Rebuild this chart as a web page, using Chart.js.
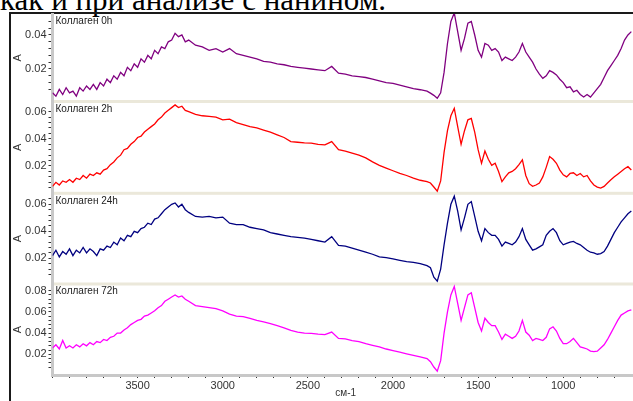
<!DOCTYPE html>
<html>
<head>
<meta charset="utf-8">
<script src="https://cdn.jsdelivr.net/npm/chart.js@4.4.0/dist/chart.umd.min.js"></script>
<style>
  html, body { margin: 0; padding: 0; background: #fff; overflow: hidden; }
  body { width: 633px; height: 401px; position: relative; }
  #caption { position: absolute; left: 0; top: -16px; font: 31px 'Liberation Serif', 'Times New Roman', serif; line-height: 1; white-space: nowrap; color: #000; }
  #frame { position: absolute; left: 9px; top: 12px; width: 700px; height: 500px; border-top: 2px solid #1a1a1a; border-left: 2px solid #1a1a1a; }
  #wrap { position: absolute; left: 0; top: 0; width: 640px; height: 401px; }
</style>
</head>
<body>
<div id="caption">как и при анализе с нанином.</div>
<div id="frame"></div>
<div id="wrap"><canvas id="spectra"></canvas></div>
<script>
// wavenumber grid, cm-1
var wavenumbers = [
  4000, 3980, 3960, 3940, 3920, 3900, 3880, 3860, 3840, 3820, 3800, 3780, 3760, 3740, 3720, 3700, 3680, 3660, 3640, 3620,
  3600, 3580, 3560, 3540, 3520, 3500, 3480, 3460, 3440, 3420, 3400, 3380, 3360, 3340, 3320, 3300, 3280, 3260, 3240, 3220, 3200,
  3160, 3120, 3080, 3040, 3000, 2960, 2920, 2880, 2840, 2800, 2760, 2720, 2680, 2640, 2600, 2560, 2520, 2480, 2440, 2400,
  2360, 2320, 2280, 2240, 2200, 2160, 2120, 2080, 2040, 2000, 1960, 1920, 1880, 1840,
  1800, 1780, 1760, 1740, 1720, 1700, 1680, 1660, 1640, 1620, 1600, 1580, 1560, 1540, 1520, 1500, 1480, 1460, 1440, 1420,
  1400, 1380, 1360, 1340, 1320, 1300, 1280, 1260, 1240, 1220, 1200, 1180, 1160, 1140, 1120, 1100, 1080, 1060, 1040, 1020,
  1000, 980, 960, 940, 920, 900, 880, 860, 840, 820, 800, 780, 760, 740, 720, 700, 680, 660, 640, 620, 600
];

var collagen0h = [
  0.006, 0.004, 0.008, 0.005, 0.009, 0.006, 0.007, 0.004, 0.009, 0.007, 0.010, 0.008, 0.011, 0.008, 0.012, 0.010, 0.014, 0.012, 0.016, 0.014,
  0.018, 0.016, 0.021, 0.019, 0.023, 0.021, 0.026, 0.024, 0.028, 0.026, 0.031, 0.029, 0.033, 0.032, 0.036, 0.037, 0.041, 0.039, 0.040, 0.036, 0.037,
  0.034, 0.033, 0.031, 0.032, 0.030, 0.032, 0.029, 0.028, 0.027, 0.026, 0.0245, 0.024, 0.023, 0.0225, 0.0215, 0.021, 0.0205, 0.020, 0.0195, 0.019,
  0.0215, 0.0175, 0.017, 0.016, 0.0155, 0.015, 0.014, 0.013, 0.012, 0.0115, 0.0105, 0.0095, 0.0085, 0.0078,
  0.007, 0.0058, 0.0045, 0.0028, 0.006, 0.018, 0.035, 0.048, 0.053, 0.042, 0.031, 0.038, 0.047, 0.048, 0.040, 0.031, 0.027, 0.035, 0.034, 0.031,
  0.032, 0.030, 0.025, 0.027, 0.026, 0.025, 0.027, 0.030, 0.035, 0.030, 0.027, 0.024, 0.020, 0.017, 0.0145, 0.016, 0.019, 0.018, 0.0165, 0.014,
  0.012, 0.009, 0.0095, 0.0065, 0.0075, 0.005, 0.0035, 0.005, 0.0035, 0.006, 0.0085, 0.011, 0.015, 0.019, 0.022, 0.025, 0.028, 0.032, 0.037, 0.040, 0.042
];

var collagen2h = [
  0.005, 0.008, 0.006, 0.009, 0.008, 0.010, 0.008, 0.011, 0.010, 0.013, 0.011, 0.014, 0.013, 0.015, 0.014, 0.017, 0.018, 0.021, 0.023, 0.026,
  0.028, 0.032, 0.033, 0.036, 0.038, 0.041, 0.042, 0.045, 0.047, 0.049, 0.051, 0.054, 0.056, 0.059, 0.061, 0.063, 0.065, 0.063, 0.064, 0.061, 0.060,
  0.058, 0.057, 0.0565, 0.056, 0.054, 0.0545, 0.052, 0.0505, 0.049, 0.048, 0.0465, 0.045, 0.043, 0.041, 0.038, 0.0375, 0.037, 0.0368, 0.036, 0.0355,
  0.038, 0.032, 0.031, 0.0295, 0.028, 0.026, 0.023, 0.0205, 0.0185, 0.0165, 0.0145, 0.013, 0.011, 0.0095,
  0.0085, 0.0075, 0.0045, 0.0015, 0.009, 0.030, 0.046, 0.057, 0.0625, 0.049, 0.036, 0.046, 0.054, 0.055, 0.045, 0.032, 0.022, 0.031, 0.025, 0.0205,
  0.022, 0.016, 0.0085, 0.012, 0.015, 0.016, 0.018, 0.021, 0.0245, 0.013, 0.007, 0.005, 0.006, 0.0075, 0.012, 0.019, 0.027, 0.025, 0.022, 0.017,
  0.0135, 0.012, 0.0145, 0.015, 0.013, 0.0145, 0.012, 0.013, 0.009, 0.006, 0.0045, 0.0037, 0.005, 0.0075, 0.0098, 0.012, 0.014, 0.016, 0.018, 0.0195, 0.017
];

var collagen24h = [
  0.022, 0.026, 0.021, 0.025, 0.023, 0.027, 0.022, 0.026, 0.024, 0.028, 0.024, 0.027, 0.025, 0.022, 0.027, 0.026, 0.029, 0.028, 0.032, 0.030,
  0.035, 0.033, 0.037, 0.036, 0.040, 0.039, 0.042, 0.043, 0.046, 0.045, 0.049, 0.050, 0.053, 0.056, 0.058, 0.060, 0.061, 0.058, 0.060, 0.056, 0.054,
  0.051, 0.0505, 0.051, 0.050, 0.0505, 0.046, 0.045, 0.045, 0.043, 0.042, 0.041, 0.039, 0.038, 0.037, 0.036, 0.0355, 0.035, 0.034, 0.033, 0.032,
  0.036, 0.0295, 0.029, 0.0275, 0.026, 0.0245, 0.023, 0.021, 0.0205, 0.0195, 0.0185, 0.0175, 0.017, 0.016,
  0.0145, 0.013, 0.006, 0.003, 0.012, 0.030, 0.046, 0.060, 0.066, 0.055, 0.041, 0.050, 0.060, 0.062, 0.051, 0.040, 0.033, 0.042, 0.039, 0.037,
  0.037, 0.034, 0.029, 0.032, 0.031, 0.030, 0.032, 0.036, 0.042, 0.034, 0.030, 0.026, 0.027, 0.0285, 0.030, 0.037, 0.040, 0.042, 0.039, 0.033,
  0.030, 0.031, 0.032, 0.0325, 0.031, 0.030, 0.028, 0.026, 0.0245, 0.024, 0.023, 0.0235, 0.025, 0.029, 0.034, 0.039, 0.043, 0.047, 0.050, 0.053, 0.055
];

var collagen72h = [
  0.026, 0.029, 0.025, 0.033, 0.026, 0.028, 0.026, 0.029, 0.027, 0.030, 0.028, 0.031, 0.029, 0.032, 0.031, 0.034, 0.033, 0.036, 0.037, 0.040,
  0.040, 0.043, 0.045, 0.048, 0.050, 0.052, 0.053, 0.056, 0.057, 0.059, 0.061, 0.064, 0.066, 0.070, 0.072, 0.074, 0.076, 0.074, 0.075, 0.072, 0.070,
  0.066, 0.065, 0.064, 0.063, 0.061, 0.058, 0.056, 0.0555, 0.054, 0.052, 0.0505, 0.049, 0.047, 0.045, 0.0425, 0.041, 0.040, 0.0398, 0.039, 0.0385,
  0.041, 0.035, 0.0345, 0.033, 0.032, 0.030, 0.0285, 0.027, 0.025, 0.0235, 0.022, 0.0205, 0.019, 0.0175,
  0.016, 0.013, 0.008, 0.004, 0.014, 0.040, 0.060, 0.076, 0.084, 0.068, 0.052, 0.064, 0.076, 0.078, 0.064, 0.050, 0.042, 0.054, 0.050, 0.047,
  0.047, 0.041, 0.034, 0.039, 0.037, 0.035, 0.037, 0.042, 0.052, 0.041, 0.038, 0.033, 0.035, 0.034, 0.033, 0.036, 0.044, 0.046, 0.042, 0.035,
  0.030, 0.030, 0.032, 0.035, 0.031, 0.027, 0.026, 0.025, 0.023, 0.0225, 0.023, 0.026, 0.029, 0.034, 0.040, 0.046, 0.052, 0.057, 0.059, 0.061, 0.062
];

var sampleNames = ['Коллаген 0h', 'Коллаген 2h', 'Коллаген 24h', 'Коллаген 72h'];
var sampleData = [collagen0h, collagen2h, collagen24h, collagen72h];
var sampleColors = ['#800080', '#ff0000', '#000080', '#ff00ff'];

// absorbance range of each panel, top to bottom
var panelMin = [0.00088, -0.00011, 0.00096, 0.00047];
var panelMax = [0.05235, 0.06751, 0.06815, 0.08632];
var panelWeights = [87.5, 91.8, 90.7, 91];
var yLabelTicks = [[0.02, 0.04], [0.02, 0.04, 0.06], [0.02, 0.04, 0.06], [0.02, 0.04, 0.06, 0.08]];
var xLabelTicks = [3500, 3000, 2500, 2000, 1500, 1000];

Chart.defaults.font.family = "'Liberation Sans', Arial, sans-serif";
Chart.defaults.color = '#333';

function onGrid(v, step) {
  var r = v / step;
  return Math.abs(r - Math.round(r)) < 1e-6;
}

function panelAxis(i) {
  return {
    type: 'linear',
    position: 'left',
    stack: 'spectra',
    stackWeight: panelWeights[i],
    min: panelMin[i],
    max: panelMax[i],
    afterFit: function (scale) { scale.width = 41.5; },
    border: { display: true, color: '#c8c8c8', width: 3 },
    grid: {
      drawOnChartArea: false,
      tickLength: 4,
      tickColor: function (ctx) { return ctx.tick && onGrid(ctx.tick.value, 0.004) ? '#333' : 'rgba(0,0,0,0)'; }
    },
    ticks: {
      stepSize: 0.004,
      autoSkip: false,
      padding: 2,
      font: { size: 11 },
      color: '#333',
      callback: function (v) {
        return yLabelTicks[i].some(function (t) { return Math.abs(t - v) < 1e-6; }) ? v.toFixed(2) : '';
      }
    },
    title: { display: true, text: 'A', font: { size: 11 }, color: '#333', padding: 0 }
  };
}

// upper panels are placed from the highest axis index down
var scales = {
  x: {
    type: 'linear',
    reverse: true,
    min: 555,
    max: 4000,
    afterFit: function (scale) { scale.height = 26; },
    border: { display: true, color: '#c8c8c8', width: 3 },
    grid: {
      drawOnChartArea: false,
      tickLength: 3,
      tickColor: function (ctx) { return ctx.tick && onGrid(ctx.tick.value, 100) ? '#333' : 'rgba(0,0,0,0)'; }
    },
    ticks: {
      stepSize: 100,
      autoSkip: false,
      maxRotation: 0,
      padding: 1,
      font: { size: 11 },
      color: '#333',
      callback: function (v) {
        return xLabelTicks.some(function (t) { return Math.abs(t - v) < 0.5; }) ? String(Math.round(v)) : '';
      }
    },
    title: { display: true, text: 'см-1', font: { size: 10 }, color: '#333', padding: { top: 0, bottom: 2 } }
  }
};
for (var i = sampleNames.length - 1; i >= 0; i--) {
  scales['y' + i] = panelAxis(i);
}

// light separators between the stacked panels
var panelBands = {
  id: 'panelBands',
  beforeDatasetsDraw: function (chart) {
    var ctx = chart.ctx, area = chart.chartArea;
    ctx.save();
    ctx.fillStyle = '#ebe8da';
    for (var i = 0; i < sampleNames.length - 1; i++) {
      var b = chart.scales['y' + i].bottom;
      ctx.fillRect(area.left + 1.5, b - 1.5, area.right - area.left, 3);
    }
    ctx.restore();
  }
};

// sample name in the corner of each panel
var panelNames = {
  id: 'panelNames',
  afterDatasetsDraw: function (chart) {
    var ctx = chart.ctx, area = chart.chartArea;
    ctx.save();
    ctx.font = "10px 'Liberation Sans', Arial, sans-serif";
    ctx.fillStyle = '#222';
    ctx.textBaseline = 'middle';
    for (var i = 0; i < sampleNames.length; i++) {
      ctx.fillText(sampleNames[i], area.left + 3, chart.scales['y' + i].top + 7.5);
    }
    ctx.restore();
  }
};

var datasets = sampleNames.map(function (name, i) {
  return {
    label: name,
    data: sampleData[i],
    yAxisID: 'y' + i,
    borderColor: sampleColors[i],
    borderWidth: 1.3,
    pointRadius: 0,
    tension: 0,
    fill: false
  };
});

var spectra = new Chart(document.getElementById('spectra'), {
  type: 'line',
  data: { labels: wavenumbers, datasets: datasets },
  options: {
    responsive: true,
    maintainAspectRatio: false,
    animation: false,
    events: [],
    layout: { padding: { top: 14, left: 11, right: 0, bottom: 0 } },
    plugins: { legend: { display: false }, tooltip: { enabled: false } },
    scales: scales
  },
  plugins: [panelBands, panelNames]
});
</script>
</body>
</html>
